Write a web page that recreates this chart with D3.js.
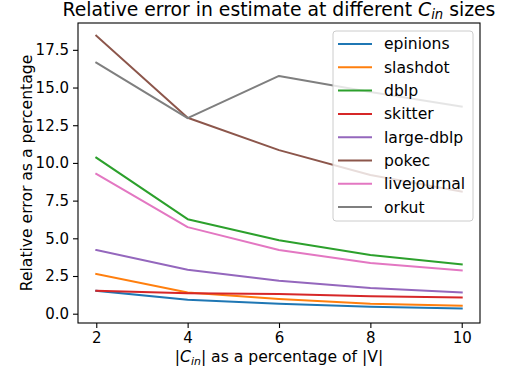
<!DOCTYPE html>
<html>
<head>
<meta charset="utf-8">
<script src="https://cdn.jsdelivr.net/npm/d3@7"></script>
<style>
  body { margin: 0; background: #fff; }
  svg { font-family: "DejaVu Sans", sans-serif; display: block; }
</style>
</head>
<body>
<svg id="chart" width="505" height="373"></svg>
<script>
// data
var sizes = [2, 4, 6, 8, 10]
var names = ["epinions", "slashdot", "dblp", "skitter", "large-dblp", "pokec", "livejournal", "orkut"]
var epinions = [1.52, 0.93, 0.66, 0.46, 0.35]
var slashdot = [2.63, 1.41, 0.97, 0.66, 0.53]
var dblp = [10.35, 6.27, 4.87, 3.9, 3.27]
var skitter = [1.52, 1.35, 1.3, 1.15, 1.08]
var largeDblp = [4.22, 2.92, 2.19, 1.7, 1.41]
var pokec = [18.44, 13.0, 10.85, 9.2, 8.1]
var livejournal = [9.28, 5.74, 4.22, 3.36, 2.87]
var orkut = [16.65, 12.97, 15.77, 14.7, 13.74]
var yTicks = [0, 2.5, 5, 7.5, 10, 12.5, 15, 17.5]
var colors = ["#1f77b4", "#ff7f0e", "#2ca02c", "#d62728", "#9467bd", "#8c564b", "#e377c2", "#7f7f7f"]

var series = [epinions, slashdot, dblp, skitter, largeDblp, pokec, livejournal, orkut]

var m = { left: 78, right: 480, top: 23, bottom: 323 }
var svg = d3.select("#chart")

var x = d3.scaleLinear().domain([1.6, 10.4]).range([m.left, m.right])
var y = d3.scaleLinear().domain([-0.617, 19.28]).range([m.bottom, m.top])

var line = d3.line()
  .x(function (d, i) { return x(sizes[i]) })
  .y(function (d) { return y(d) })

//lines
svg.append("g").selectAll("path")
  .data(series)
  .enter()
  .append("path")
  .attr("d", line)
  .attr("fill", "none")
  .attr("stroke", function (d, i) { return colors[i] })
  .attr("stroke-width", 2)
  .attr("stroke-linejoin", "round")
  .attr("stroke-linecap", "square")

//axes
svg.append("g")
  .attr("transform", "translate(0," + m.bottom + ")")
  .call(d3.axisBottom(x).tickValues(sizes).tickSize(5).tickPadding(4))
svg.append("g")
  .attr("transform", "translate(" + m.left + ",0)")
  .call(d3.axisLeft(y).tickValues(yTicks).tickFormat(d3.format(".1f")).tickSize(5).tickPadding(4))

svg.selectAll(".domain").remove()
svg.selectAll(".tick line").attr("stroke", "#000").attr("stroke-width", 1.1)
svg.selectAll(".tick text")
  .attr("font-family", "DejaVu Sans")
  .attr("font-size", 15)
  .attr("fill", "#000")

svg.append("rect")
  .attr("x", m.left).attr("y", m.top)
  .attr("width", m.right - m.left).attr("height", m.bottom - m.top)
  .attr("fill", "none").attr("stroke", "#000").attr("stroke-width", 1.1)

//legend
var lg = svg.append("g")
lg.append("rect")
  .attr("x", 333).attr("y", 31)
  .attr("width", 140).attr("height", 190)
  .attr("rx", 3)
  .attr("fill", "#fff").attr("fill-opacity", 0.8)
  .attr("stroke", "#cccccc").attr("stroke-width", 1)

var item = lg.selectAll("g.item")
  .data(names)
  .enter()
  .append("g")
  .attr("class", "item")
  .attr("transform", function (d, i) { return "translate(0," + (44 + i * 23.3) + ")" })
item.append("line")
  .attr("x1", 338).attr("x2", 372)
  .attr("stroke", function (d, i) { return colors[i] })
  .attr("stroke-width", 2)
item.append("text")
  .attr("x", 384).attr("dy", "0.35em")
  .attr("font-size", 15.6)
  .text(function (d) { return d })

//title
var title = svg.append("text")
  .attr("x", (m.left + m.right) / 2).attr("y", 16)
  .attr("text-anchor", "middle")
  .attr("font-size", 18.8)
title.append("tspan").text("Relative error in estimate at different ")
title.append("tspan").attr("font-style", "italic").text("C")
title.append("tspan").attr("font-style", "italic").attr("font-size", 13.2).attr("dy", 3).text("in")
title.append("tspan").attr("dy", -3).text(" sizes")

//x label
var xl = svg.append("text")
  .attr("x", (m.left + m.right) / 2).attr("y", 362)
  .attr("text-anchor", "middle")
  .attr("font-size", 15.6)
xl.append("tspan").text("|")
xl.append("tspan").attr("font-style", "italic").text("C")
xl.append("tspan").attr("font-style", "italic").attr("font-size", 10.9).attr("dy", 2.5).text("in")
xl.append("tspan").attr("dy", -2.5).text("| as a percentage of |V|")

//y label
svg.append("text")
  .attr("transform", "translate(27," + (m.top + m.bottom) / 2 + ") rotate(-90)")
  .attr("text-anchor", "middle")
  .attr("dy", "0.35em")
  .attr("font-size", 15.6)
  .text("Relative error as a percentage")
</script>
</body>
</html>
